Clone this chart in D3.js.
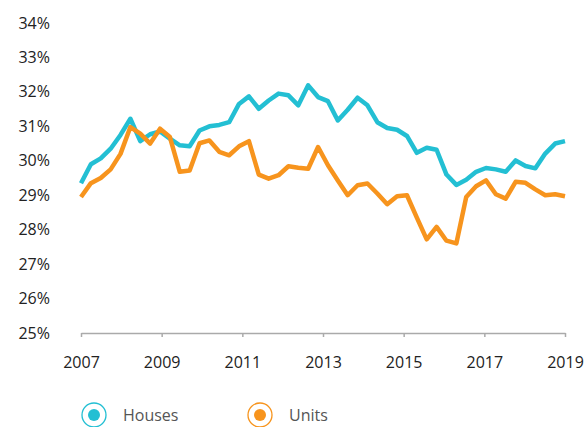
<!DOCTYPE html>
<html>
<head>
<meta charset="utf-8">
<script src="https://cdn.jsdelivr.net/npm/d3@7"></script>
<style>
  body { margin: 0; background: #fff; }
  svg text { font-family: "Open Sans", "Noto Sans", sans-serif; }
</style>
</head>
<body>
<div id="chart"></div>
<script>
// quarterly share values (%)
const houses = [
  29.35, 29.90, 30.07, 30.35, 30.75, 31.22, 30.57, 30.77, 30.85, 30.64,
  30.45, 30.42, 30.88, 31.00, 31.04, 31.12, 31.65, 31.87, 31.51, 31.75,
  31.95, 31.90, 31.61, 32.19, 31.85, 31.73, 31.17, 31.48, 31.83, 31.61,
  31.12, 30.95, 30.90, 30.72, 30.23, 30.38, 30.32, 29.60, 29.30, 29.45,
  29.68, 29.79, 29.75, 29.68, 30.01, 29.85, 29.78, 30.21, 30.50, 30.57
];
const units = [
  28.95, 29.35, 29.50, 29.75, 30.20, 30.98, 30.79, 30.50, 30.93, 30.69,
  29.68, 29.72, 30.51, 30.59, 30.26, 30.16, 30.42, 30.57, 29.60, 29.48,
  29.58, 29.84, 29.80, 29.77, 30.40, 29.87, 29.43, 29.00, 29.29, 29.34,
  29.05, 28.74, 28.97, 29.00, 28.35, 27.72, 28.08, 27.68, 27.60, 28.95,
  29.26, 29.43, 29.03, 28.90, 29.39, 29.36, 29.17, 29.00, 29.03, 28.97
];
const yearTicks = [2007, 2009, 2011, 2013, 2015, 2017, 2019];
const pctTicks = [25, 26, 27, 28, 29, 30, 31, 32, 33, 34];
const seriesNames = ['Houses', 'Units'];
const seriesColors = ['#23bfd3', '#f7941d'];

const width = 585;
const height = 427;

const svg = d3.select('#chart')
  .append('svg')
  .attr('width', width)
  .attr('height', height);

const x = d3.scaleLinear().domain([0, houses.length - 1]).range([81, 565]);
const xYear = d3.scaleLinear().domain([2007, 2019]).range([81, 565]);
const y = d3.scaleLinear().domain([25, 34]).range([333, 23]);

// x axis
const xAxis = svg.append('g')
  .attr('transform', 'translate(0,333)')
  .call(d3.axisBottom(xYear).tickValues(yearTicks).tickFormat(d3.format('d')).tickSize(4).tickSizeOuter(0));
xAxis.select('.domain').attr('stroke', '#aaa').attr('stroke-width', 1.5);
xAxis.selectAll('.tick line').attr('stroke', '#aaa').attr('stroke-width', 1.5);
xAxis.selectAll('.tick text')
  .attr('y', 24)
  .attr('dy', '0.71em')
  .attr('fill', '#222')
  .style('font-size', '16px');

// y labels, no axis line
svg.append('g')
  .selectAll('text')
  .data(pctTicks)
  .enter().append('text')
  .attr('x', 50)
  .attr('y', d => y(d))
  .attr('dy', '0.35em')
  .attr('text-anchor', 'end')
  .attr('fill', '#222')
  .style('font-size', '16px')
  .text(d => d + '%');

const line = d3.line()
  .x((d, i) => x(i))
  .y(d => y(d));

[houses, units].forEach((vals, k) => {
  svg.append('path')
    .datum(vals)
    .attr('fill', 'none')
    .attr('stroke', seriesColors[k])
    .attr('stroke-width', 4.5)
    .attr('stroke-linejoin', 'round')
    .attr('d', line);
});

// legend
const legendX = [94, 260];
const legend = svg.append('g');
seriesNames.forEach((name, k) => {
  const g = legend.append('g').attr('transform', `translate(${legendX[k]},415)`);
  g.append('circle').attr('r', 12).attr('fill', 'none').attr('stroke', seriesColors[k]).attr('stroke-width', 1.3);
  g.append('circle').attr('r', 6).attr('fill', seriesColors[k]);
  g.append('text')
    .attr('x', 29)
    .attr('dy', '0.35em')
    .attr('fill', '#555')
    .style('font-size', '16px')
    .text(name);
});
</script>
</body>
</html>
